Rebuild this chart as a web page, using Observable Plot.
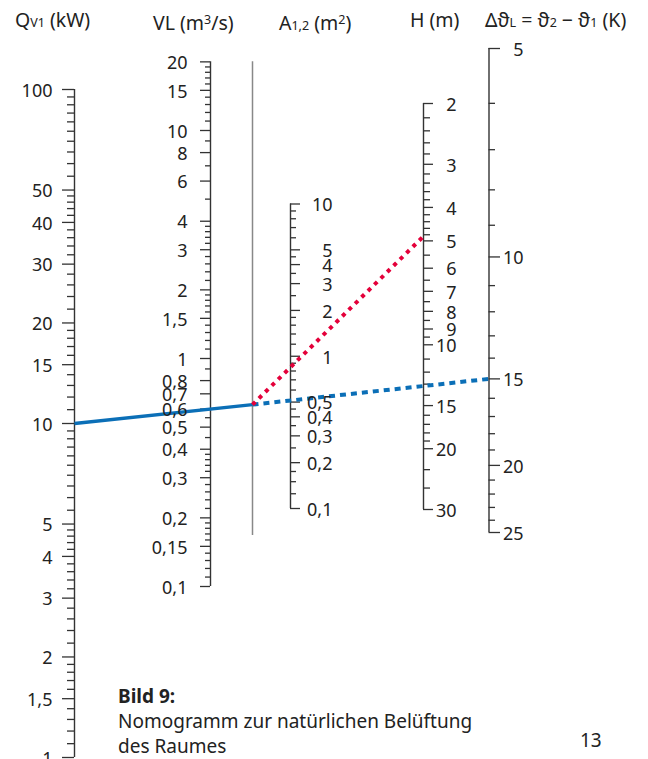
<!DOCTYPE html>
<html><head><meta charset="utf-8">
<script src="https://cdn.jsdelivr.net/npm/d3@7"></script>
<script src="https://cdn.jsdelivr.net/npm/@observablehq/plot@0.6"></script>
<style>
html,body{margin:0;padding:0;background:#fff}
body{font-family:"Noto Sans",sans-serif;color:#222}
#wrap{position:relative;width:648px;height:759px;overflow:hidden}
.lbl{position:absolute;font-size:19.5px;white-space:nowrap;line-height:20px}
.sub{font-size:12.5px}
.sup{font-size:12.5px;vertical-align:6px}
#cap{position:absolute;left:118px;top:684px;font-size:19px;line-height:25px}
#page{position:absolute;left:580px;top:728px;font-size:19px;line-height:25px}
</style></head><body>
<div id="wrap">
<div id="chart"></div>
<div class="lbl" style="left:15px;top:9.5px">Q<span class="sub">V1</span> (kW)</div>
<div class="lbl" style="left:153px;top:9.5px">VL (m<span class="sup">3</span>/s)</div>
<div class="lbl" style="left:279px;top:9.5px">A<span class="sub">1,2</span> (m<span class="sup">2</span>)</div>
<div class="lbl" style="left:410px;top:9.5px">H (m)</div>
<div class="lbl" style="left:485px;top:9.5px">Δϑ<span class="sub">L</span> = ϑ<span class="sub">2</span> − ϑ<span class="sub">1</span> (K)</div>
<div id="cap"><b>Bild 9:</b><br>Nomogramm zur natürlichen Belüftung<br>des Raumes</div>
<div id="page">13</div>
</div>
<script>
// ---- data: tick values of the five scales ----
const qMajor = [100, 50, 40, 30, 20, 15, 10, 5, 4, 3, 2, 1.5, 1];
const qMinor = [95, 90, 85, 80, 75, 70, 65, 60, 55, 48, 46, 44, 42, 38, 36, 34, 32, 28, 26, 24, 22,
  19, 18, 17, 16, 14, 13, 12, 11, 9.5, 9, 8.5, 8, 7.5, 7, 6.5, 6, 5.5, 4.8, 4.6, 4.4, 4.2,
  3.8, 3.6, 3.4, 3.2, 2.8, 2.6, 2.4, 2.2, 1.9, 1.8, 1.7, 1.6, 1.4, 1.3, 1.2, 1.1];
const vlMajor = [20, 15, 10, 8, 6, 4, 3, 2, 1.5, 1, 0.8, 0.7, 0.6, 0.5, 0.4, 0.3, 0.2, 0.15, 0.1];
const vlMinor = [19, 18, 17, 16, 14, 13, 12, 11, 9, 7, 5, 3.8, 3.6, 3.4, 3.2, 2.8, 2.6, 2.4, 2.2,
  1.9, 1.8, 1.7, 1.6, 1.4, 1.3, 1.2, 1.1, 0.9, 0.55, 0.45, 0.38, 0.36, 0.34, 0.32,
  0.28, 0.26, 0.24, 0.22, 0.19, 0.18, 0.17, 0.16, 0.14, 0.13, 0.12, 0.11];
const aMajor = [10, 5, 4, 3, 2, 1, 0.5, 0.4, 0.3, 0.2, 0.1];
const aMinor = [9, 8, 7, 6, 4.5, 3.5, 2.5, 1.8, 1.6, 1.4, 1.2, 0.9, 0.8, 0.7, 0.6, 0.45, 0.35, 0.25, 0.175, 0.15, 0.125];
const hMajor = [2, 3, 4, 5, 6, 7, 8, 9, 10, 15, 20, 30];
const hMinor = [2.2, 2.4, 2.6, 2.8, 3.2, 3.4, 3.6, 3.8, 4.2, 4.4, 4.6, 4.8, 5.5, 6.5, 7.5, 8.5, 9.5,
  11, 12, 13, 14, 16, 17, 18, 19, 23, 26];
const tMajor = [5, 10, 15, 20, 25];
const tMinor = [6, 7, 8, 9, 11, 12, 13, 14, 16, 17, 18, 19, 21, 22, 23, 24];
// example reading
const qPick = 10, vlPick = 0.6, tPick = 15, hPick = 4.85;

// ---- layout ----
const W = 648, Hgt = 759;
const X = {Q: 74, VL: 210, turn: 252, A: 290, H: 423, T: 488.5};
function logScale(domain, range) {
  if (Plot.scale) return Plot.scale({y: {type: "log", domain, range}});
  const s = d3.scaleLog(domain, range); return {apply: s};
}
const S = {
  Q: logScale([1, 100], [757, 89]),
  VL: logScale([0.1, 10], [586, 130]),
  A: logScale([0.1, 10], [508, 203.5]),
  H: logScale([2, 30], [103, 509]),
  T: logScale([5, 25], [48, 532])
};
const fmt = v => String(v).replace(".", ",");

const axes = [
  {k: "Q", major: qMajor, minor: qMinor, side: -1, lx: 52, len: [12, 7]},
  {k: "VL", major: vlMajor, minor: vlMinor, side: -1, lx: 187, len: [10, 5]},
  {k: "A", major: aMajor, minor: aMinor, side: 1, lx: 332, len: [10, 6]},
  {k: "H", major: hMajor, minor: hMinor, side: 1, lx: 456, len: [10, 7]},
  {k: "T", major: tMajor, minor: tMinor, side: 1, lx: 523, len: [11.5, 6.5]}
];
const axisLines = [], ticks = [], labels = [];
for (const a of axes) {
  const s = S[a.k].apply, x = X[a.k];
  const ext = d3.extent(a.major.map(s));
  axisLines.push({x, y1: ext[0], y2: ext[1]});
  for (const v of a.major) {
    ticks.push({y: s(v), x1: x, x2: x + a.side * a.len[0]});
    labels.push({x: a.lx, y: s(v) + 1.5, text: fmt(v)});
  }
  for (const v of a.minor) ticks.push({y: s(v), x1: x, x2: x + a.side * a.len[1]});
}
const turnLine = [{x: X.turn, y1: S.VL.apply(20), y2: 535}];

// construction lines
const yQ = S.Q.apply(qPick), yVL = S.VL.apply(vlPick);
const yTurn = yQ + (yVL - yQ) * (X.turn - X.Q) / (X.VL - X.Q);
const blueSolid = [{x: X.Q, y: yQ}, {x: X.turn, y: yTurn}];
const blueDot = [{x: X.turn, y: yTurn}, {x: X.T, y: S.T.apply(tPick)}];
const redDot = [{x: X.turn, y: yTurn}, {x: X.H, y: S.H.apply(hPick)}];

const plot = Plot.plot({
  width: W, height: Hgt, margin: 0,
  x: {type: "identity", axis: null},
  y: {type: "identity", axis: null},
  style: {fontFamily: "'Noto Sans', sans-serif", background: "transparent"},
  marks: [
    Plot.ruleX(turnLine, {x: "x", y1: "y1", y2: "y2", stroke: "#888", strokeWidth: 1.5}),
    Plot.ruleX(axisLines, {x: "x", y1: "y1", y2: "y2", stroke: "#333", strokeWidth: 1.4}),
    Plot.ruleY(ticks, {y: "y", x1: "x1", x2: "x2", stroke: "#333", strokeWidth: 1.3}),
    Plot.line(blueSolid, {x: "x", y: "y", stroke: "#0b6fb7", strokeWidth: 3.5, strokeLinecap: "butt"}),
    Plot.line(blueDot, {x: "x", y: "y", stroke: "#0b6fb7", strokeWidth: 4, strokeDasharray: "6,5", strokeLinecap: "butt"}),
    Plot.line(redDot, {x: "x", y: "y", stroke: "#e4003a", strokeWidth: 4, strokeDasharray: "4,5", strokeLinecap: "butt"}),
    Plot.text(labels, {x: "x", y: "y", text: "text", textAnchor: "end", fontSize: 18, fill: "#222"})
  ]
});
document.getElementById("chart").appendChild(plot);
</script>
</body></html>
